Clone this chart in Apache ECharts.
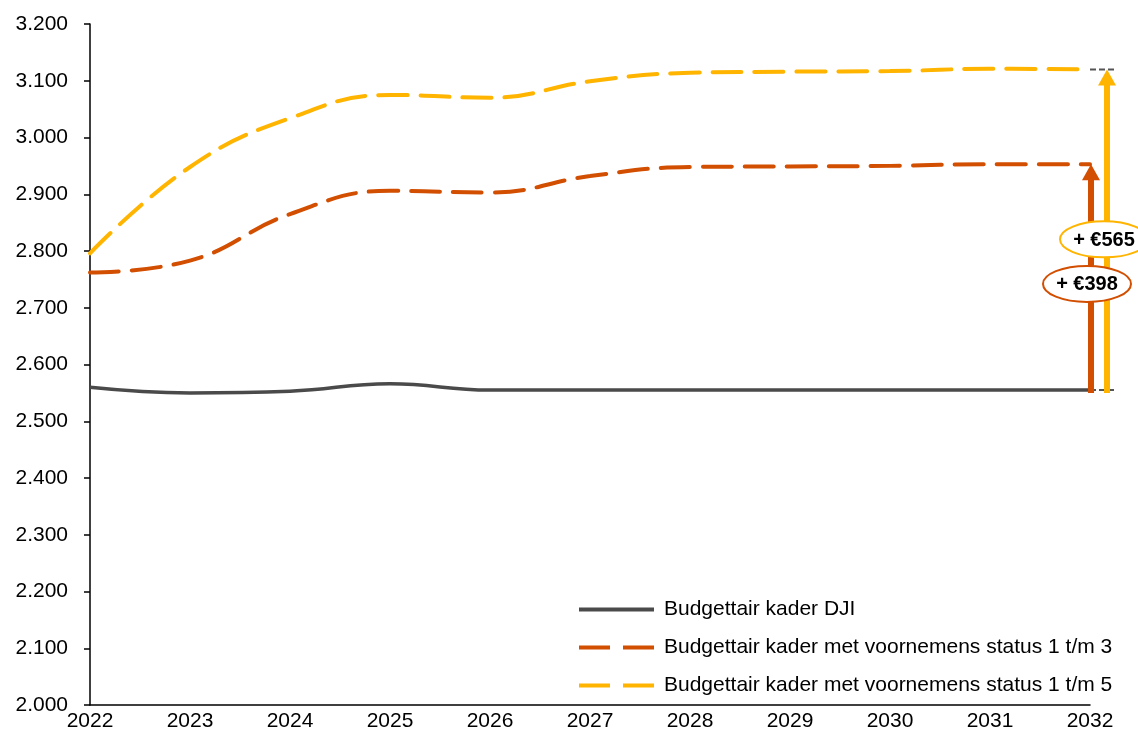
<!DOCTYPE html>
<html>
<head>
<meta charset="utf-8">
<script src="https://cdn.jsdelivr.net/npm/echarts@6/dist/echarts.min.js"></script>
<style>
html,body{margin:0;padding:0;background:#fff;}
#chart{width:1138px;height:732px;}
</style>
</head>
<body>
<div id="chart"></div>
<script>
const years = ['2022','2023','2024','2025','2026','2027','2028','2029','2030','2031','2032'];
const djiValues = [2560, 2550, 2553, 2566, 2555, 2555, 2555, 2555, 2555, 2555, 2555];
const status13Values = [2762, 2783, 2865, 2906, 2903, 2932, 2948, 2949, 2950, 2953, 2953];
const status15Values = [2796, 2948, 3034, 3075, 3070, 3099, 3114, 3116, 3117, 3121, 3120];
const seriesNames = ['Budgettair kader DJI', 'Budgettair kader met voornemens status 1 t/m 3', 'Budgettair kader met voornemens status 1 t/m 5'];
const yTicks = { min: 2000, max: 3200, interval: 100 };

const colors = { dji: '#4a4a4a', s13: '#d24e01', s15: '#ffb400' };
const font = '"Liberation Sans", Arial, sans-serif';
const solidIcon = 'path://M0,0H75V4H0Z';
const dashIcon = 'path://M0,0H31V4H0Z M44,0H75V4H44Z';

const lastIdx = years.length - 1;
const arrowData = [
  [lastIdx, djiValues[lastIdx], status13Values[lastIdx]],
  [lastIdx, djiValues[lastIdx], status15Values[lastIdx]]
];
const arrowStyle = [
  { color: colors.s13, dx: 1, labelDx: -4, refLines: false },
  { color: colors.s15, dx: 17, labelDx: -3, refLines: true }
];

function fmt(v) {
  const s = String(Math.round(v));
  return s.replace(/\B(?=(\d{3})+(?!\d))/g, '.');
}

const chart = echarts.init(document.getElementById('chart'));
chart.setOption({
  animation: false,
  backgroundColor: '#fff',
  grid: { left: 90, right: 48, top: 24, bottom: 27, containLabel: false },
  legend: {
    orient: 'vertical',
    left: 574,
    top: 594,
    itemWidth: 75,
    itemHeight: 4,
    itemGap: 17,
    textStyle: { fontFamily: font, fontSize: 21, lineHeight: 21, color: '#000', padding: [0, 0, 0, 5] },
    data: [
      { name: seriesNames[0], icon: solidIcon },
      { name: seriesNames[1], icon: dashIcon },
      { name: seriesNames[2], icon: dashIcon }
    ]
  },
  xAxis: {
    type: 'category',
    data: years,
    boundaryGap: false,
    axisLine: { show: true, lineStyle: { color: '#000', width: 1.5 } },
    axisTick: { show: false },
    axisLabel: { fontFamily: font, fontSize: 21, color: '#000', margin: 6 },
    splitLine: { show: false }
  },
  yAxis: {
    type: 'value',
    min: yTicks.min,
    max: yTicks.max,
    interval: yTicks.interval,
    axisLine: { show: true, lineStyle: { color: '#000', width: 1.5 } },
    axisTick: { show: true, length: 6, lineStyle: { color: '#000', width: 1.5 } },
    axisLabel: { fontFamily: font, fontSize: 21, color: '#000', margin: 22, formatter: fmt },
    splitLine: { show: false }
  },
  series: [
    {
      name: seriesNames[0], type: 'line', data: djiValues, smooth: 0.45,
      symbol: 'none', lineStyle: { color: colors.dji, width: 3.5 },
      itemStyle: { color: colors.dji }, z: 3
    },
    {
      name: seriesNames[1], type: 'line', data: status13Values, smooth: 0.45,
      symbol: 'none', lineStyle: { color: colors.s13, width: 4, type: [29, 13], cap: 'round' },
      itemStyle: { color: colors.s13 }, z: 3
    },
    {
      name: seriesNames[2], type: 'line', data: status15Values, smooth: 0.45,
      symbol: 'none', lineStyle: { color: colors.s15, width: 4, type: [29, 13], cap: 'round' },
      itemStyle: { color: colors.s15 }, z: 3
    },
    {
      type: 'custom',
      z: 10,
      clip: false,
      silent: true,
      data: arrowData,
      renderItem: function (params, api) {
        const i = params.dataIndex;
        const st = arrowStyle[i];
        const p0 = api.coord([api.value(0), api.value(1)]);
        const p1 = api.coord([api.value(0), api.value(2)]);
        const x = p0[0] + st.dx;
        const yb = p0[1] + 3;
        const yt = p1[1];
        const headH = 16, headW = 9;
        const children = [];
        if (st.refLines) {
          children.push({
            type: 'line', shape: { x1: p0[0], y1: p0[1], x2: p0[0] + 27, y2: p0[1] },
            style: { stroke: '#555', lineWidth: 2, lineDash: [6, 3] }, z2: 1
          });
          children.push({
            type: 'line', shape: { x1: p0[0], y1: yt, x2: p0[0] + 27, y2: yt },
            style: { stroke: '#555', lineWidth: 2, lineDash: [6, 3] }, z2: 1
          });
        }
        children.push({
          type: 'line', shape: { x1: x, y1: yb, x2: x, y2: yt + headH - 1 },
          style: { stroke: st.color, lineWidth: 6 }, z2: 2
        });
        children.push({
          type: 'polygon', shape: { points: [[x - headW, yt + headH], [x + headW, yt + headH], [x, yt]] },
          style: { fill: st.color }, z2: 2
        });
        const labelVal = api.value(1) + (api.value(2) - api.value(1)) * 0.47;
        const cy = api.coord([api.value(0), labelVal])[1];
        const cx = x + st.labelDx;
        children.push({
          type: 'ellipse', shape: { cx: cx, cy: cy, rx: 44, ry: 18 },
          style: { fill: '#fff', stroke: st.color, lineWidth: 2 }, z2: 3
        });
        children.push({
          type: 'text',
          style: {
            text: '+ €' + Math.round(api.value(2) - api.value(1)),
            x: cx, y: cy + 1, align: 'center', verticalAlign: 'middle',
            font: 'bold 20px ' + font, fill: '#000'
          }, z2: 4
        });
        return { type: 'group', children: children };
      }
    }
  ]
});
</script>
</body>
</html>
